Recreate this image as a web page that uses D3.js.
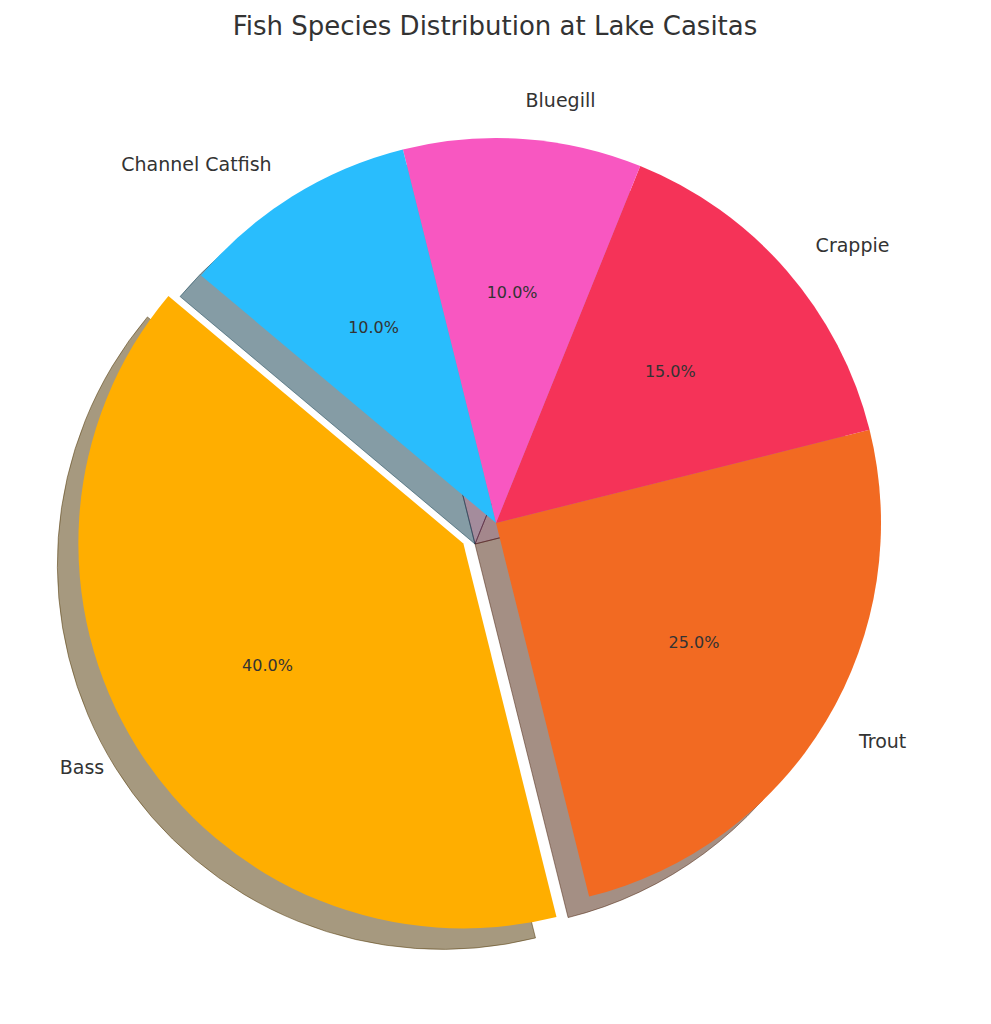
<!DOCTYPE html><html><head><meta charset="utf-8"><script src="https://cdn.jsdelivr.net/npm/d3@7"></script>
<style>body{margin:0;background:#fff}</style></head><body><svg id="c" width="991" height="1024"></svg>
<script>
const categories=["Bass","Trout","Crappie","Bluegill","Channel Catfish"];
const values=[40,25,15,10,10];
const colors=["#FFAE00","#F26A22","#F53358","#F857C1","#29BDFD"];
const explode=[0.1,0,0,0,0];
const svg=d3.select("#c"),cx=496,cy=523,R=385,start=140;
svg.append("text").attr("x",495).attr("y",35).attr("text-anchor","middle").attr("font-family","DejaVu Sans").attr("font-size",26).attr("fill","#333").text("Fish Species Distribution at Lake Casitas");
const total=d3.sum(values);
let a=start;const w=values.map((v,i)=>{const s=a;a+=v/total*360;return {i,v,s,e:a,m:(s+a)/2};});
const rad=d=>d*Math.PI/180;
const arc=d3.arc().innerRadius(0).outerRadius(R);
// math angle (ccw from +x) -> d3 angle (cw from +y): d3 = 90 - math
const path=d=>arc({startAngle:rad(90-d.e),endAngle:rad(90-d.s)});
const off=d=>[explode[d.i]*R*Math.cos(rad(d.m)),-explode[d.i]*R*Math.sin(rad(d.m))];
const g=svg.append("g");
w.forEach(d=>{const [ox,oy]=off(d);const c=d3.rgb(colors[d.i]);const sc=d3.rgb(c.r*0.3,c.g*0.3,c.b*0.3);
g.append("path").attr("d",path(d)).attr("transform",`translate(${cx+ox-21},${cy+oy+21})`).attr("fill",sc).attr("fill-opacity",0.5).attr("stroke",sc).attr("stroke-opacity",0.5);});
w.forEach(d=>{const [ox,oy]=off(d);
g.append("path").attr("d",path(d)).attr("transform",`translate(${cx+ox},${cy+oy})`).attr("fill",colors[d.i]);});
w.forEach(d=>{const [ox,oy]=off(d);const x=cx+ox,y=cy+oy,cs=Math.cos(rad(d.m)),sn=Math.sin(rad(d.m));
svg.append("text").attr("x",x+1.1*R*cs).attr("y",y-1.1*R*sn).attr("dy","0.35em").attr("text-anchor",cs>0?"start":"end").attr("font-family","DejaVu Sans").attr("font-size",19).attr("fill","#333").text(categories[d.i]);
svg.append("text").attr("x",x+0.6*R*cs).attr("y",y-0.6*R*sn).attr("dy","0.35em").attr("text-anchor","middle").attr("font-family","DejaVu Sans").attr("font-size",16).attr("fill","#333").text((d.v/total*100).toFixed(1)+"%");});
</script></body></html>
